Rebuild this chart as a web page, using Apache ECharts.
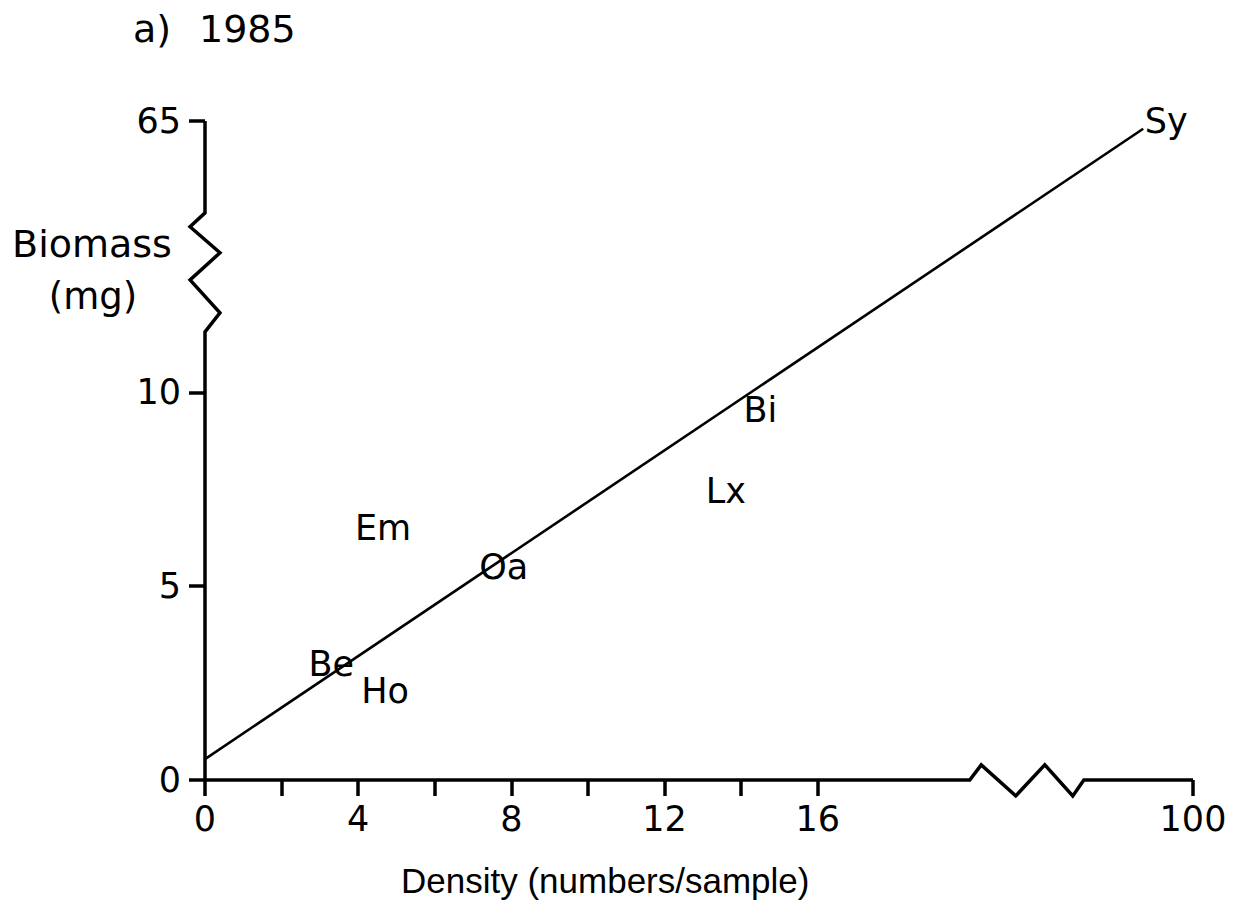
<!DOCTYPE html>
<html><head><meta charset="utf-8">
<script src="https://cdn.jsdelivr.net/npm/echarts@6/dist/echarts.min.js"></script>
<style>html,body{margin:0;padding:0;background:#fff}#c{width:1246px;height:909px}</style>
</head><body><div id="c"></div>
<script>
const speciesCodes   = ['Be', 'Ho', 'Em', 'Oa', 'Lx', 'Bi', 'Sy'];
const densityValues  = [3.3, 4.7, 4.65, 7.8, 13.6, 14.5, 99.3];
const biomassValues  = [3.0, 2.3, 6.5, 5.5, 7.45, 9.55, 65.0];
const fitLineDensity = [0, 98.7];
const fitLineBiomass = [0.54, 64.8];
const xTickValues  = [0, 2, 4, 6, 8, 10, 12, 14, 16, 100];
const xLabelValues = [0, 4, 8, 12, 16, 100];
const yTickValues  = [0, 5, 10, 65];
const yLabelValues = [0, 5, 10, 65];
const titleText  = ['a) ', '1985'];
const xAxisTitle = 'Density (numbers/sample)';
const yAxisTitle = ['Biomass', '(mg)'];

// ---- broken-axis mapping (real value -> axis position) ----
const X_BREAK = 20, X_SHIFT = 74.2;
const Y_BREAK = 12, Y_SHIFT = 48;
function xPos(v) { return v <= X_BREAK ? v : v - X_SHIFT; }
function yPos(v) { return v <= Y_BREAK ? v : v - Y_SHIFT; }
function labelFor(list, map) {
  return function (v) {
    const i = list.findIndex(r => Math.abs(map(r) - v) < 1e-6);
    return i >= 0 ? String(list[i]) : '';
  };
}

// axis outlines with zigzag break symbols (axis-position units)
const xAxisOutline = [[0, 0], [19.97, 0], [20.27, 0.39], [21.17, -0.41], [21.93, 0.39], [22.66, -0.41], [22.95, 0], [xPos(100), 0]];
const yAxisOutline = [[0, 0], [0, 11.56], [0.39, 12.05], [-0.39, 12.9], [0.39, 13.6], [-0.39, 14.27], [0, 14.63], [0, yPos(65)]];

const FONT = 'DejaVu Sans';
const FONT2 = 'Liberation Sans';
const FS = 35;
const black = '#000';

const chart = echarts.init(document.getElementById('c'), null, { renderer: 'svg' });
chart.setOption({
  animation: false,
  backgroundColor: '#fff',
  textStyle: { fontFamily: FONT, color: black },
  grid: { left: 205, right: 53, top: 121, bottom: 129 },
  xAxis: {
    type: 'value', min: 0, max: xPos(100),
    axisLine: { show: false },
    splitLine: { show: false },
    axisTick: { show: true, customValues: xTickValues.map(xPos), length: 16, lineStyle: { color: black, width: 3.5 } },
    axisLabel: { customValues: xLabelValues.map(xPos), formatter: labelFor(xLabelValues, xPos),
      fontFamily: FONT, fontSize: FS, lineHeight: FS, color: black, margin: 21 }
  },
  yAxis: {
    type: 'value', min: 0, max: yPos(65),
    axisLine: { show: false },
    splitLine: { show: false },
    axisTick: { show: true, customValues: yTickValues.map(yPos), length: 16, lineStyle: { color: black, width: 3.5 } },
    axisLabel: { customValues: yLabelValues.map(yPos), formatter: labelFor(yLabelValues, yPos),
      fontFamily: FONT, fontSize: FS, lineHeight: FS, color: black, margin: 24 }
  },
  graphic: [
    { type: 'text', x: 133, y: 28.5, style: {
        text: '{a|' + titleText[0] + '}{b|' + titleText[1] + '}',
        rich: { a: { width: 66, fontFamily: FONT, fontSize: 38, fill: black }, b: { fontFamily: FONT, fontSize: 38, fill: black } },
        font: '38px "' + FONT + '"', fill: black, textAlign: 'left', textVerticalAlign: 'middle' } },
    { type: 'text', x: 92, y: 243.5, style: { text: yAxisTitle[0], font: '38px "' + FONT + '"', fill: black, textAlign: 'center', textVerticalAlign: 'middle' } },
    { type: 'text', x: 93, y: 296, style: { text: yAxisTitle[1], font: '37px "' + FONT + '"', fill: black, textAlign: 'center', textVerticalAlign: 'middle' } },
    { type: 'text', x: 401, y: 880, style: { text: xAxisTitle, font: '35px "' + FONT2 + '"', fill: black, textAlign: 'left', textVerticalAlign: 'middle' } }
  ],
  series: [
    { type: 'custom', name: 'axis lines', clip: false, silent: true, z: 3,
      data: [0],
      renderItem: function (params, api) {
        const toPts = arr => arr.map(p => api.coord(p));
        return { type: 'group', children: [
          { type: 'polyline', shape: { points: toPts(xAxisOutline) }, style: { stroke: black, lineWidth: 3.5, fill: null, lineJoin: 'miter' } },
          { type: 'polyline', shape: { points: toPts(yAxisOutline) }, style: { stroke: black, lineWidth: 3.5, fill: null, lineJoin: 'miter' } }
        ] };
      } },
    { type: 'line', name: 'fit', symbol: 'none', clip: false, silent: true,
      data: fitLineDensity.map((d, i) => [xPos(d), yPos(fitLineBiomass[i])]),
      lineStyle: { color: black, width: 2.6 }, z: 2 },
    { type: 'scatter', name: 'species', symbolSize: 1, clip: false,
      itemStyle: { opacity: 0 },
      data: speciesCodes.map((s, i) => ({ name: s, value: [xPos(densityValues[i]), yPos(biomassValues[i])] })),
      label: { show: true, position: 'inside', formatter: p => p.name, fontFamily: FONT, fontSize: FS, color: black, opacity: 1 },
      z: 4 }
  ]
});
</script></body></html>
